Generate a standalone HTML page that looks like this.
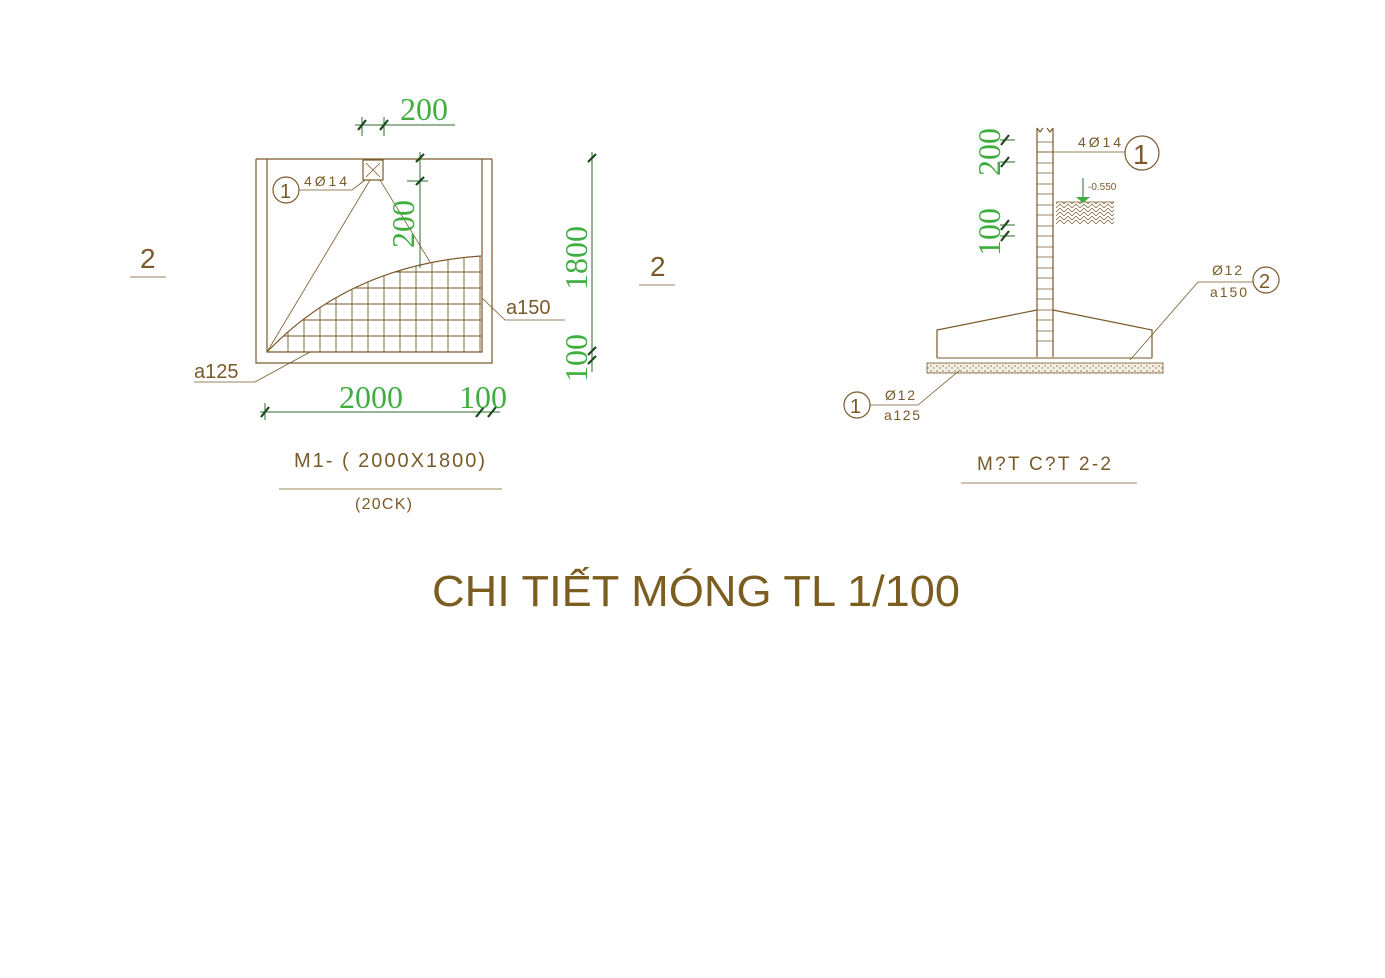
<!DOCTYPE html>
<html><head><meta charset="utf-8"><style>
html,body{margin:0;padding:0;background:#fff;width:1385px;height:978px;overflow:hidden}
text{font-family:"Liberation Sans",sans-serif}
.s{font-family:"Liberation Serif",serif}
</style></head><body>
<svg width="1385" height="978" viewBox="0 0 1385 978" xmlns="http://www.w3.org/2000/svg">
<defs>
<clipPath id="cg"><path d="M267,352 Q350,265 481,256 L481,352 Z"/></clipPath>
<pattern id="hx" width="8" height="8" patternUnits="userSpaceOnUse"><path d="M0,4 L4,0 L8,4 M0,8 L4,4 L8,8" stroke="#7a5a2a" stroke-width="0.7" fill="none"/></pattern>
<pattern id="dt" width="6" height="5" patternUnits="userSpaceOnUse"><rect width="6" height="5" fill="#f4efe4"/><circle cx="1" cy="1" r="0.8" fill="#8a7050"/><circle cx="4" cy="3" r="0.7" fill="#8a7050"/></pattern>
</defs>
<g stroke="#7a5a2a" fill="none" stroke-width="1.2">
<path d="M256,159 L492,159 M256,159 L256,363 L492,363 L492,159 M267,159 L267,352 L482,352 L482,159"/>
<path d="M267,352 Q350,265 481,256"/>
<g clip-path="url(#cg)" stroke-width="0.9">
<path d="M288,250V352M304,250V352M320,250V352M336,250V352M352,250V352M368,250V352M384,250V352M400,250V352M416,250V352M432,250V352M448,250V352M464,250V352M480,250V352"/>
<path d="M267,336H482M267,320H482M267,304H482M267,288H482M267,272H482M267,256H482"/>
</g>
<rect x="363" y="160" width="20" height="20"/>
<path d="M366,163 L380,177 M380,163 L366,177" stroke-width="0.8"/>
<path d="M370,180 L267,352 M380,180 L430,262" stroke-width="0.8"/>
<circle cx="286" cy="190" r="13"/>
<path d="M299,190 L352,190 L365,180" stroke-width="0.8"/>
<path d="M194,382 L255,382 L310,352" stroke-width="0.8"/>
<path d="M565,320 L505,320 L482,298" stroke-width="0.8"/>
<path d="M130,277H166M639,285H675M279,489H502" stroke-width="0.8"/>
<path d="M1037,128 V357 M1053,128 V357 M1037,128 l3,4 l3,-4 M1053,128 l-3,4 l-3,-4"/>
<path d="M1037,310 L937,330 L937,358 M1053,310 L1152,330 L1152,358" />
<path d="M1037,142H1053M1037,152H1053M1037,163H1053M1037,173H1053M1037,184H1053M1037,194H1053M1037,205H1053M1037,215H1053M1037,226H1053M1037,236H1053M1037,247H1053M1037,257H1053M1037,268H1053M1037,278H1053M1037,289H1053M1037,299H1053M1037,310H1053M1037,320H1053M1037,331H1053M1037,341H1053" stroke-width="0.7"/>
<path d="M937,358 H1152" stroke-width="1"/>
<rect x="927" y="363" width="236" height="10" fill="url(#dt)" stroke-width="0.8"/>
<rect x="1056" y="202" width="58" height="22" fill="url(#hx)" stroke="none"/>
<path d="M1056,202 H1114" stroke-width="0.8"/>
<path d="M1037,152 H1125" stroke-width="0.8"/>
<circle cx="1142" cy="153" r="17"/>
<circle cx="1266" cy="280" r="13"/>
<path d="M1253,282 L1198,282 L1130,360" stroke-width="0.8"/>
<circle cx="857" cy="405" r="13"/>
<path d="M870,405 L918,405 L960,370" stroke-width="0.8"/>
<path d="M961,483H1137" stroke-width="0.8"/>
</g>
<g stroke="#2f6a2f" stroke-width="1" fill="none">
<path d="M355,125 H455 M362,117 V136 M384,117 V136"/>
<path d="M420,152 V268 M407,181 H428"/>
<path d="M592,152 V372 M260,412 H500 M265,403 V420"/>
<path d="M1000,140H1015M1000,162H1015M1000,225H1015M1000,236H1015"/>
<path d="M1083,178 V198"/>
</g>
<g stroke="#1a4a1a" stroke-width="2.2">
<path d="M358,130 L366,120 M380,130 L388,120 M416,162 L424,154 M416,185 L424,177 M588,162 L596,154 M588,355 L596,347 M588,364 L596,356 M261,417 L269,407 M476,417 L484,407 M488,417 L496,407 M1001,145 L1009,135 M1001,167 L1009,157 M1001,230 L1009,220 M1001,241 L1009,231"/>
</g>
<path d="M1076,197 L1090,197 L1083,203 Z" fill="#3faa3f"/>
<g fill="#3fae3f" class="s">
<text x="400" y="120" font-size="32" class="s">200</text>
<text x="339" y="408" font-size="32" class="s">2000</text>
<text x="459" y="408" font-size="32" class="s">100</text>
<text transform="translate(414,248) rotate(-90)" font-size="32" class="s">200</text>
<text transform="translate(587,290) rotate(-90)" font-size="32" class="s">1800</text>
<text transform="translate(587,382) rotate(-90)" font-size="32" class="s">100</text>
<text transform="translate(1000,176) rotate(-90)" font-size="32" class="s">200</text>
<text transform="translate(1000,256) rotate(-90)" font-size="32" class="s">100</text>
</g>
<g fill="#7a5a2a">
<text x="280" y="198" font-size="20">1</text>
<text x="304" y="186" font-size="14" textLength="43" lengthAdjust="spacing">4Ø14</text>
<text x="194" y="378" font-size="20">a125</text>
<text x="506" y="314" font-size="20">a150</text>
<text x="140" y="268" font-size="28">2</text>
<text x="650" y="276" font-size="28">2</text>
<text x="294" y="467" font-size="20" textLength="191" lengthAdjust="spacing">M1- ( 2000X1800)</text>
<text x="355" y="509" font-size="16" textLength="57" lengthAdjust="spacing">(20CK)</text>
<text x="1078" y="147" font-size="14" textLength="43" lengthAdjust="spacing">4Ø14</text>
<text x="1133" y="164" font-size="28">1</text>
<text x="1088" y="190" font-size="10">-0.550</text>
<text x="1259" y="288" font-size="20">2</text>
<text x="1212" y="275" font-size="14" textLength="30" lengthAdjust="spacing">Ø12</text>
<text x="1210" y="297" font-size="14" textLength="37" lengthAdjust="spacing">a150</text>
<text x="850" y="413" font-size="20">1</text>
<text x="885" y="400" font-size="14" textLength="30" lengthAdjust="spacing">Ø12</text>
<text x="884" y="420" font-size="14" textLength="36" lengthAdjust="spacing">a125</text>
<text x="977" y="470" font-size="19" textLength="134" lengthAdjust="spacing">M?T C?T 2-2</text>
<text x="432" y="606" font-size="44" fill="#7b5e1f" textLength="528" lengthAdjust="spacingAndGlyphs">CHI TIẾT MÓNG TL 1/100</text>
</g>
</svg>
</body></html>
